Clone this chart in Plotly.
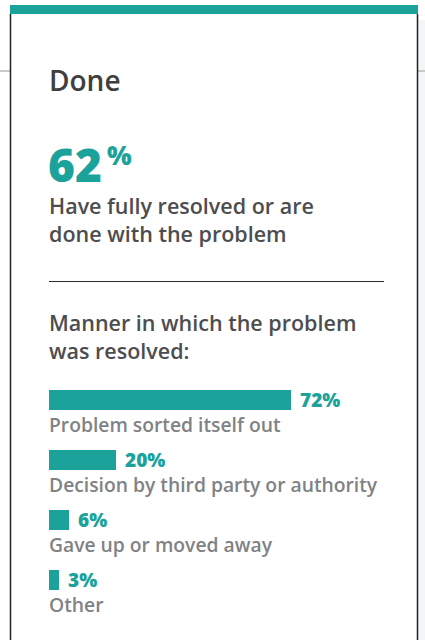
import plotly.graph_objects as go

W, H = 425, 640

# Survey data
title = "Done"
headline_pct = 62
headline_text = "Have fully resolved or are<br>done with the problem"
section_title = "Manner in which the problem<br>was resolved:"
categories = [
    "Problem sorted itself out",
    "Decision by third party or authority",
    "Gave up or moved away",
    "Other",
]
values = [72, 20, 6, 3]

TEAL = "#1ba39b"
DARK = "#3f3f41"
HEAD = "#4d4d4f"
LABEL = "#808285"
FONT = "Open Sans"


def px(x):
    return x / W


def py(y):
    return 1 - y / H


fig = go.Figure()

fig.add_trace(go.Bar(
    x=values,
    y=categories,
    orientation="h",
    marker=dict(color=TEAL, line=dict(width=0)),
    width=1 / 3,
    hoverinfo="skip",
))

annotations = []
for cat, val in zip(categories, values):
    # value label at the end of each bar
    annotations.append(dict(
        x=val, y=cat, xref="x", yref="y",
        text=f"{val}%", showarrow=False,
        xanchor="left", yanchor="middle", xshift=7, yshift=0,
        font=dict(family=FONT, size=19, color=TEAL, weight=800),
    ))
    # category label under each bar
    annotations.append(dict(
        x=0, y=cat, xref="x", yref="y",
        text=cat, showarrow=False,
        xanchor="left", yanchor="top", xshift=-2, yshift=-9,
        font=dict(family=FONT, size=19.3, color=LABEL, weight=600),
    ))

# card headings
annotations += [
    dict(x=px(47), y=py(59), xref="paper", yref="paper", text=title,
         showarrow=False, xanchor="left", yanchor="top",
         font=dict(family=FONT, size=28, color=DARK, weight=600)),
    dict(x=px(46), y=py(131), xref="paper", yref="paper", text=str(headline_pct),
         showarrow=False, xanchor="left", yanchor="top",
         font=dict(family=FONT, size=46, color=TEAL, weight=800)),
    dict(x=px(105), y=py(135), xref="paper", yref="paper", text="%",
         showarrow=False, xanchor="left", yanchor="top",
         font=dict(family=FONT, size=26, color=TEAL, weight=800)),
    dict(x=px(47), y=py(189), xref="paper", yref="paper", text=headline_text,
         showarrow=False, xanchor="left", yanchor="top", align="left",
         font=dict(family=FONT, size=21.5, color=HEAD, weight=600)),
    dict(x=px(47), y=py(306), xref="paper", yref="paper", text=section_title,
         showarrow=False, xanchor="left", yanchor="top", align="left",
         font=dict(family=FONT, size=21.5, color=HEAD, weight=600)),
]

shapes = [
    # page background strip right of the card
    dict(type="rect", xref="paper", yref="paper", x0=px(418), x1=1, y0=0, y1=py(20),
         fillcolor="#f3f5f6", line=dict(width=0), layer="below"),
    # faint page rule behind the card
    dict(type="line", xref="paper", yref="paper", x0=0, x1=px(10), y0=py(71), y1=py(71),
         line=dict(color="#b8b8b8", width=1.5)),
    dict(type="line", xref="paper", yref="paper", x0=px(418), x1=1, y0=py(71), y1=py(71),
         line=dict(color="#b8b8b8", width=1.5)),
    # card borders
    dict(type="line", xref="paper", yref="paper", x0=px(10.5), x1=px(10.5), y0=0, y1=py(14),
         line=dict(color="#222222", width=1.5)),
    dict(type="line", xref="paper", yref="paper", x0=px(417.5), x1=px(417.5), y0=0, y1=py(14),
         line=dict(color="#222222", width=1.5)),
    # teal top band
    dict(type="rect", xref="paper", yref="paper", x0=px(10), x1=px(418), y0=py(14), y1=py(5),
         fillcolor=TEAL, line=dict(width=0)),
    # divider
    dict(type="line", xref="paper", yref="paper", x0=px(49), x1=px(384), y0=py(281.5), y1=py(281.5),
         line=dict(color="#2a2a2a", width=1)),
]

fig.update_layout(
    width=W, height=H,
    margin=dict(l=0, r=0, t=0, b=0),
    paper_bgcolor="white", plot_bgcolor="white",
    showlegend=False,
    bargap=0,
    xaxis=dict(range=[0, 100], domain=[px(49), px(385)], visible=False, fixedrange=True),
    yaxis=dict(
        type="category", categoryorder="array", categoryarray=categories,
        range=[3.5, -0.5], domain=[py(610), py(370)],
        visible=False, fixedrange=True,
    ),
    annotations=annotations,
    shapes=shapes,
)

fig.write_html("out.html", config={"displayModeBar": False})
